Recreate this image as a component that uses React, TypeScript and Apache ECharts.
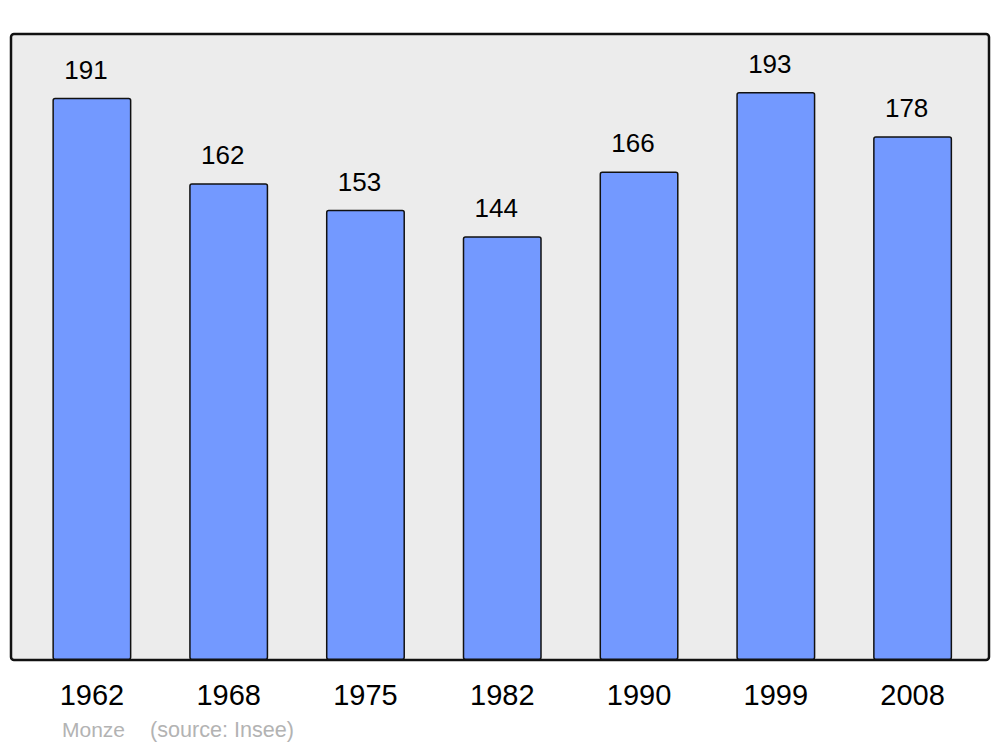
import React, { useEffect, useRef } from "react";
import * as echarts from "echarts";

const years = ["1962", "1968", "1975", "1982", "1990", "1999", "2008"];
const population = [191, 162, 153, 144, 166, 193, 178];
const placeName = "Monze";
const sourceText = "(source: Insee)";

export default function App() {
  const ref = useRef<HTMLDivElement>(null);
  useEffect(() => {
    if (!ref.current) return;
    const chart = echarts.init(ref.current, undefined, { renderer: "svg" });
    chart.setOption({
      animation: false,
      textStyle: { fontFamily: "Liberation Sans, Arial, sans-serif" },
      grid: { left: 23.5, right: 19, top: 34, bottom: 87, containLabel: false },
      graphic: [
        {
          type: "rect",
          z: -10,
          shape: { x: 11, y: 34, width: 978, height: 626, r: 3 },
          style: { fill: "#ececec", stroke: "#111", lineWidth: 2.5 },
        },
        {
          type: "text",
          x: 62,
          y: 729.5,
          style: {
            text: placeName,
            fill: "#b3b3b3",
            font: "21px Liberation Sans, Arial, sans-serif",
            textVerticalAlign: "middle",
          },
        },
        {
          type: "text",
          x: 150,
          y: 729.5,
          style: {
            text: sourceText,
            fill: "#b3b3b3",
            font: "21.6px Liberation Sans, Arial, sans-serif",
            textVerticalAlign: "middle",
          },
        },
      ],
      xAxis: {
        type: "category",
        data: years,
        axisLine: { show: false },
        axisTick: { show: false },
        axisLabel: { color: "#000", fontSize: 29, margin: 20 },
      },
      yAxis: {
        type: "value",
        min: 0,
        max: 212.7,
        show: false,
        splitLine: { show: false },
      },
      series: [
        {
          type: "bar",
          data: population,
          barWidth: 79,
          itemStyle: {
            color: "#7399ff",
            borderColor: "#111",
            borderWidth: 1.5,
            borderRadius: 2,
          },
          label: {
            show: true,
            position: "top",
            distance: 15,
            offset: [-6, 0],
            color: "#000",
            fontSize: 26,
          },
        },
      ],
    });
    return () => chart.dispose();
  }, []);
  return <div ref={ref} style={{ width: 1000, height: 747, position: "absolute", left: 0, top: 0 }} />;
}
